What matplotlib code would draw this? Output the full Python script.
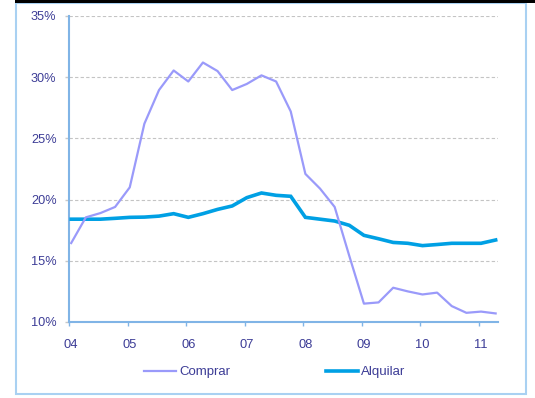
import matplotlib
matplotlib.use("Agg")
import matplotlib.pyplot as plt
from matplotlib.patches import Rectangle
from matplotlib.ticker import FixedLocator, FuncFormatter

plt.rcParams["font.family"] = ["Liberation Sans", "DejaVu Sans"]

# Quarterly series, 2004 Q1 to 2011 Q2 (percent)
comprar = [16.45, 18.55, 18.9, 19.4, 21.0, 26.2, 28.95, 30.55, 29.65, 31.2,
           30.5, 28.95, 29.45, 30.15, 29.65, 27.2, 22.1, 20.9, 19.4, 15.4,
           11.5, 11.6, 12.8, 12.5, 12.25, 12.4, 11.3, 10.75, 10.85, 10.7]
alquilar = [18.4, 18.4, 18.4, 18.47, 18.55, 18.57, 18.65, 18.85, 18.55, 18.85,
            19.2, 19.48, 20.16, 20.54, 20.35, 20.27, 18.55, 18.4, 18.25, 17.9,
            17.08, 16.8, 16.5, 16.43, 16.24, 16.33, 16.43, 16.43, 16.43, 16.7]
year_labels = ["04", "05", "06", "07", "08", "09", "10", "11"]
y_ticks = [10, 15, 20, 25, 30, 35]

text_color = "#3C3C96"
spine_color = "#80B4E6"
frame_color = "#A9D1F2"

fig = plt.figure(figsize=(5.35, 3.98), dpi=100)
fig.patch.set_facecolor("white")

# Outer frame and dark band along the top edge
fig.patches.append(Rectangle((15.5 / 535, 1 - 394 / 398), 510.5 / 535, 391 / 398,
                             transform=fig.transFigure, fill=False,
                             edgecolor=frame_color, linewidth=1.5, zorder=0))
fig.patches.append(Rectangle((15 / 535, 1 - 2.7 / 398), 520 / 535, 2.7 / 398,
                             transform=fig.transFigure, facecolor="black",
                             edgecolor="none", zorder=1))

ax = fig.add_axes([69 / 535, 1 - 322 / 398, (497.7 - 69) / 535, (322 - 16) / 398])
x = list(range(len(comprar)))

ax.plot(x, alquilar, color="#00A0E4", linewidth=2.6, label="Alquilar", zorder=3,
        solid_joinstyle="miter")
ax.plot(x, comprar, color="#9A9AFA", linewidth=1.6, label="Comprar", zorder=4)

ax.set_xlim(-0.15, len(comprar) - 1 + 0.14)
ax.set_ylim(10, 35)

# Tick marks sit just left of each year's first quarter, labels centred on it
year_pos = [4 * i for i in range(len(year_labels))]
ax.xaxis.set_major_locator(FixedLocator([p - 0.15 for p in year_pos]))
ax.xaxis.set_major_formatter(FuncFormatter(lambda v, p: ""))
ax.xaxis.set_minor_locator(FixedLocator(year_pos))
ax.set_xticks(year_pos, year_labels, minor=True)
ax.tick_params(axis="x", which="major", length=3, width=1, color=spine_color,
               direction="out")
ax.tick_params(axis="x", which="minor", length=0, pad=12.5, labelsize=9.3,
               labelcolor=text_color)

ax.set_yticks(y_ticks, [f"{v}%" for v in y_ticks])
ax.tick_params(axis="y", length=3, width=1, color="#C8C8C8", pad=6,
               labelsize=9.2, labelcolor=text_color)

ax.grid(axis="y", color="#C4C4C4", linestyle=(0, (3, 2)), linewidth=0.8)
ax.set_axisbelow(True)

for side in ("top", "right"):
    ax.spines[side].set_visible(False)
for side in ("left", "bottom"):
    ax.spines[side].set_color(spine_color)
    ax.spines[side].set_linewidth(1.5)

handles, labels = ax.get_legend_handles_labels()
order = [1, 0]
fig.legend([handles[i] for i in order], [labels[i] for i in order],
           loc="center", bbox_to_anchor=(274.8 / 535, 1 - 372 / 398),
           ncol=2, frameon=False, fontsize=9.5, handlelength=2.4,
           handletextpad=0.25, columnspacing=7.3, labelcolor=text_color)

fig.savefig("out.png", dpi=100, facecolor="white")
